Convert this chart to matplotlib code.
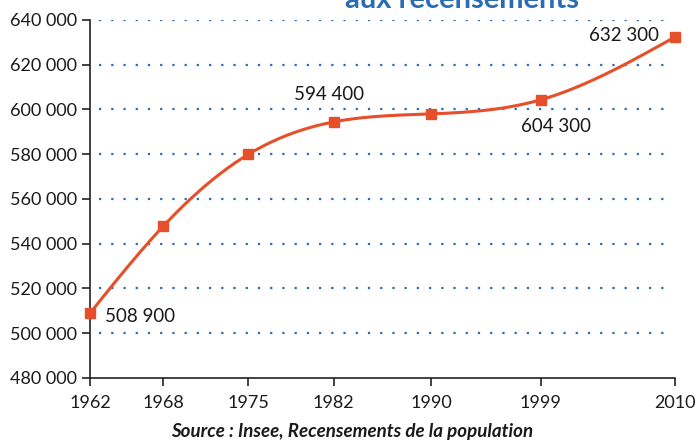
import numpy as np
import matplotlib
matplotlib.use('Agg')
import matplotlib.pyplot as plt
from matplotlib.ticker import FuncFormatter

years = [1962, 1968, 1975, 1982, 1990, 1999, 2010]
population = [508900, 547700, 579900, 594400, 598000, 604300, 632300]

# labels shown on the chart (year -> text, offset in points, alignment)
labelled = {1962: ('508 900', (11, -2), 'left'),
            1982: ('594 400', (-3, 20), 'center'),
            1999: ('604 300', (11, -19), 'center'),
            2010: ('632 300', (-11, 1), 'right')}

line_color = '#e5502a'
grid_color = '#2f68b5'
font = 'Lato'


def natural_spline(x, y, n=400):
    # natural cubic spline through the points, only to draw a smooth curve
    x = np.asarray(x, float)
    y = np.asarray(y, float)
    h = np.diff(x)
    k = len(x)
    a = np.zeros((k, k))
    b = np.zeros(k)
    a[0, 0] = a[-1, -1] = 1
    for i in range(1, k - 1):
        a[i, i - 1] = h[i - 1]
        a[i, i] = 2 * (h[i - 1] + h[i])
        a[i, i + 1] = h[i]
        b[i] = 6 * ((y[i + 1] - y[i]) / h[i] - (y[i] - y[i - 1]) / h[i - 1])
    m = np.linalg.solve(a, b)
    xs = np.linspace(x[0], x[-1], n)
    idx = np.clip(np.searchsorted(x, xs) - 1, 0, k - 2)
    x0, x1 = x[idx], x[idx + 1]
    hh = x1 - x0
    t0, t1 = x1 - xs, xs - x0
    ys = (m[idx] * t0 ** 3 + m[idx + 1] * t1 ** 3) / (6 * hh) \
        + (y[idx] / hh - m[idx] * hh / 6) * t0 \
        + (y[idx + 1] / hh - m[idx + 1] * hh / 6) * t1
    return xs, ys


fig = plt.figure(figsize=(6.97, 4.43), dpi=100)
ax = fig.add_axes([0.129, 0.147, 0.839, 0.808])

xs, ys = natural_spline(years, population)
ax.plot(xs, ys, color=line_color, lw=2.2, clip_on=False, zorder=3)
ax.plot(years, population, 's', color=line_color, ms=7, clip_on=False, zorder=4)

for yr, (txt, off, ha) in labelled.items():
    ax.annotate(txt, (yr, population[years.index(yr)]), xytext=off,
                textcoords='offset points', ha=ha, va='center',
                fontsize=13.5, family=font, color='#1a1a1a')

ax.set_xlim(1962, 2010)
ax.set_ylim(480000, 640000)
ax.set_xticks(years)
ax.set_yticks(np.arange(480000, 640001, 20000))
ax.yaxis.set_major_formatter(FuncFormatter(lambda v, p: f'{int(v):,}'.replace(',', ' ')))

for yv in range(500000, 640001, 20000):
    ax.axhline(yv, xmin=0.015, xmax=0.985, color=grid_color, lw=1.6,
               linestyle=(0, (1, 4.5)), zorder=1)

for s in ['top', 'right']:
    ax.spines[s].set_visible(False)
for s in ['left', 'bottom']:
    ax.spines[s].set_linewidth(1.2)
    ax.spines[s].set_color('#222222')

ax.tick_params(axis='both', length=6, width=1.2, color='#222222', labelsize=13)
ax.tick_params(axis='x', pad=6)
for lab in ax.get_xticklabels() + ax.get_yticklabels():
    lab.set_family(font)
    lab.set_color('#1a1a1a')

fig.text(0.663, 1.0, 'aux recensements', ha='center', va='center',
         fontsize=21, fontweight='bold', family=font, color='#2a6db5')
fig.text(0.505, 0.025, 'Source : Insee, Recensements de la population', ha='center',
         va='center', fontsize=13.5, fontweight='bold', fontstyle='italic',
         family=font, color='#1a1a1a')

fig.savefig('out.png', dpi=100)
